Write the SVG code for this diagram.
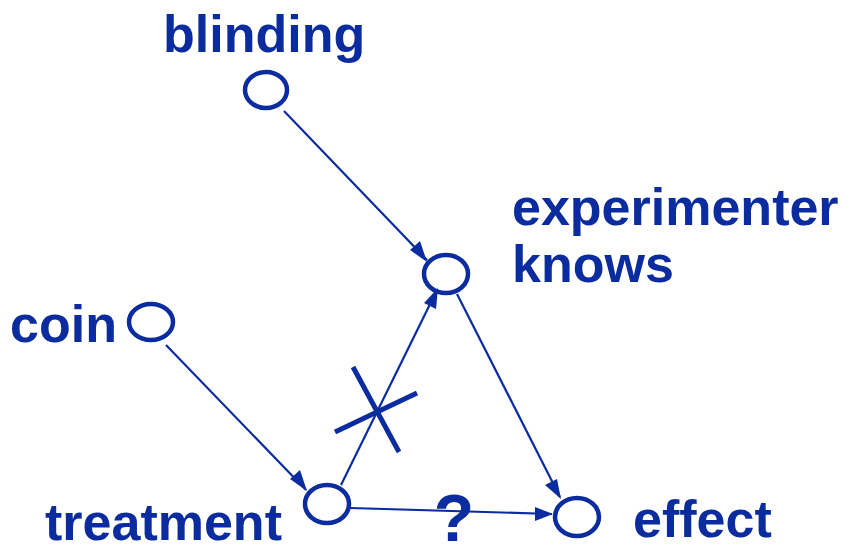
<svg xmlns="http://www.w3.org/2000/svg" width="855" height="555" viewBox="0 0 855 555">
<style>
.node{fill:none;stroke:#0A2C9F;stroke-width:4.5}
.lbl{font-family:"Liberation Sans",Arial,sans-serif;font-weight:bold;font-size:52px;fill:#0A2C9F}
.edge{stroke:#0A2C9F;stroke-width:2.2;fill:none}
.head{fill:#0A2C9F}
.cross{stroke:#0A2C9F;stroke-width:5}
</style>
<rect width="855" height="555" fill="#fff"/>
<g id="connectors">
<line class="edge" x1="284" y1="111" x2="427" y2="260"/>
<path class="head" d="M427,262 L410,250 L420,241 Z"/>
<line class="edge" x1="166" y1="345" x2="306" y2="490"/>
<path class="head" d="M307,491 L290,479 L300,470 Z"/>
<line class="edge" x1="341" y1="485" x2="436" y2="292"/>
<path class="head" d="M438,288 L436,309 L424,303 Z"/>
<line class="edge" x1="457" y1="294" x2="560" y2="497"/>
<path class="head" d="M561,499 L545,485 L557,479 Z"/>
<text class="lbl" x="454" y="541" text-anchor="middle" style="font-size:66px">?</text>
<line class="edge" x1="350" y1="508" x2="552" y2="514"/>
<path class="head" d="M553,514 L535,521 L535,507 Z"/>
<line class="cross" x1="353" y1="367" x2="399" y2="452"/>
<line class="cross" x1="335" y1="432" x2="417" y2="393"/>
</g>
<g id="blinding"><ellipse class="node" cx="266" cy="90" rx="21" ry="18"/><text class="lbl" x="163" y="52">blinding</text></g>
<g id="experimenter"><ellipse class="node" cx="446" cy="274" rx="22" ry="19"/><text class="lbl" x="512" y="225">experimenter</text><text class="lbl" x="512" y="282">knows</text></g>
<g id="coin"><ellipse class="node" cx="151" cy="322" rx="22" ry="18"/><text class="lbl" x="10" y="342">coin</text></g>
<g id="treatment"><ellipse class="node" cx="327" cy="504" rx="22" ry="19"/><text class="lbl" x="45" y="540">treatment</text></g>
<g id="effect"><ellipse class="node" cx="577" cy="517" rx="22" ry="19"/><text class="lbl" x="633" y="537">effect</text></g>
</svg>
